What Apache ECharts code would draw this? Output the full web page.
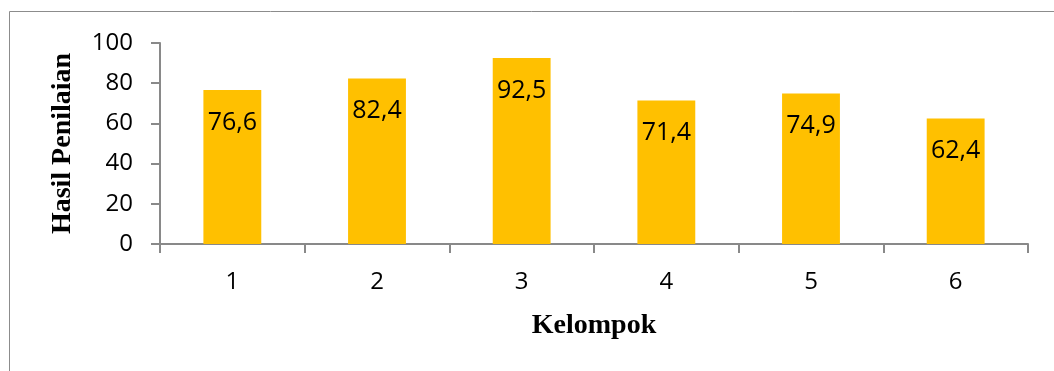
<!DOCTYPE html>
<html>
<head>
<meta charset="utf-8">
<script src="https://cdn.jsdelivr.net/npm/echarts@6/dist/echarts.min.js"></script>
<style>
  html, body { margin: 0; padding: 0; background: #fff; }
  #chart { width: 1054px; height: 371px; }
</style>
</head>
<body>
<div id="chart"></div>
<script>
// Nilai rata-rata hasil penilaian per kelompok
const categories = ['1', '2', '3', '4', '5', '6'];
const scores = [76.6, 82.4, 92.5, 71.4, 74.9, 62.4];
const yTicks = [0, 20, 40, 60, 80, 100];

const axisGray = '#898989';
const sansFont = '"Open Sans", "Noto Sans", sans-serif';
const serifFont = '"Liberation Serif", "DejaVu Serif", serif';

const chart = echarts.init(document.getElementById('chart'), null, { renderer: 'canvas' });

chart.setOption({
  animation: false,
  backgroundColor: '#fff',
  graphic: [{
    type: 'polyline',
    shape: { points: [[9.5, 371], [9.5, 11.5], [1054, 11.5]] },
    style: { stroke: '#8c8c8c', lineWidth: 1, fill: null },
    silent: true
  }],
  grid: { left: 160, right: 26, top: 43, bottom: 127, containLabel: false },
  xAxis: {
    type: 'category',
    data: categories,
    name: 'Kelompok',
    nameLocation: 'middle',
    nameGap: 68,
    nameTextStyle: { fontFamily: serifFont, fontWeight: 'bold', fontSize: 28, color: '#000' },
    axisLine: { lineStyle: { color: axisGray, width: 2 } },
    axisTick: { show: true, length: 9, lineStyle: { color: axisGray, width: 2 } },
    axisLabel: { margin: 26, fontFamily: sansFont, fontSize: 24, color: '#000' },
    splitLine: { show: false }
  },
  yAxis: {
    type: 'value',
    min: yTicks[0],
    max: yTicks[yTicks.length - 1],
    interval: yTicks[1] - yTicks[0],
    name: 'Hasil Penilaian',
    nameLocation: 'middle',
    nameGap: 83,
    nameRotate: 90,
    nameTextStyle: { fontFamily: serifFont, fontWeight: 'bold', fontSize: 28, color: '#000' },
    axisLine: { show: true, lineStyle: { color: axisGray, width: 2 } },
    axisTick: { show: true, length: 9, lineStyle: { color: axisGray, width: 2 } },
    axisLabel: { margin: 27, fontFamily: sansFont, fontSize: 24, color: '#000' },
    splitLine: { show: false }
  },
  series: [{
    type: 'bar',
    data: scores,
    barWidth: '40%',
    itemStyle: { color: '#FFC000' },
    label: {
      show: true,
      position: 'insideTop',
      distance: 20,
      fontFamily: sansFont,
      fontSize: 25,
      color: '#000',
      formatter: p => p.value.toFixed(1).replace('.', ',')
    }
  }]
});
</script>
</body>
</html>
